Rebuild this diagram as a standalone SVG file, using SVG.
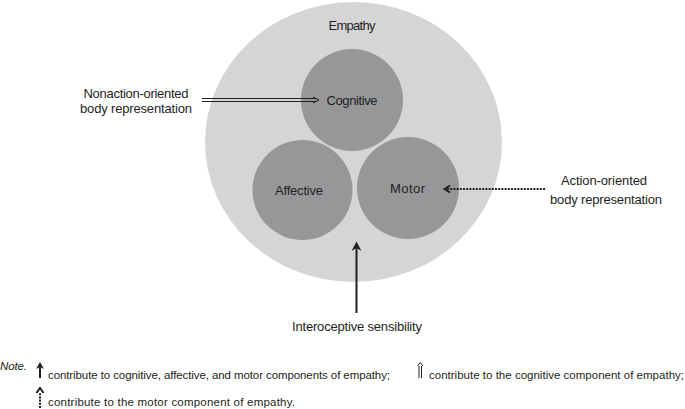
<svg xmlns="http://www.w3.org/2000/svg" width="685" height="409" viewBox="0 0 685 409">
<style>
  text { font-family: "Liberation Sans", Arial, sans-serif; fill: #231f20; }
  .lbl { font-size: 13px; text-anchor: middle; }
  .note { font-size: 11.5px; }
  .big { fill: #d5d5d7; }
  .comp { fill: #97979a; }
  .solid { stroke: #231f20; stroke-width: 2; fill: none; }
  .thin { stroke: #231f20; stroke-width: 1; fill: none; }
  .dot { stroke: #231f20; stroke-width: 2; stroke-dasharray: 2 1.2; fill: none; }
</style>
<g id="empathy">
  <ellipse class="big" cx="353.5" cy="142" rx="148.5" ry="140"/>
  <text class="lbl" x="352" y="30" textLength="47">Empathy</text>
</g>
<g id="cognitive">
  <circle class="comp" cx="352" cy="100" r="51"/>
  <text class="lbl" x="352" y="105" textLength="51">Cognitive</text>
</g>
<g id="affective">
  <circle class="comp" cx="302.5" cy="190" r="50"/>
  <text class="lbl" x="299" y="195" textLength="48">Affective</text>
</g>
<g id="motor">
  <circle class="comp" cx="408" cy="188" r="51"/>
  <text class="lbl" x="407.5" y="193" textLength="35">Motor</text>
</g>
<g id="nonaction">
  <text class="lbl" x="136" y="98" textLength="105">Nonaction-oriented</text>
  <text class="lbl" x="136" y="113" textLength="112">body representation</text>
</g>
<g id="action">
  <text class="lbl" x="604" y="185" textLength="86">Action-oriented</text>
  <text class="lbl" x="606" y="204" textLength="112">body representation</text>
</g>
<g id="interoceptive">
  <text class="lbl" x="357" y="331" textLength="130">Interoceptive sensibility</text>
</g>
<g id="connectors">
  <line class="thin" x1="202" y1="98.5" x2="316" y2="98.5"/>
  <line class="thin" x1="202" y1="101.5" x2="316" y2="101.5"/>
  <path class="thin" d="M313,97 L319,100 L313,103"/>
  <line class="dot" x1="545" y1="189" x2="446" y2="189"/>
  <path class="solid" stroke-width="1.6" d="M450,185.5 L444.5,189 L450,192.5"/>
  <line class="solid" x1="356.5" y1="313" x2="356.5" y2="246"/>
  <path d="M351.5,251 L356.5,241.5 L361.5,251 L356.5,248 Z" fill="#231f20"/>
</g>
<g id="legend">
  <text class="note" x="0" y="370" font-style="italic" font-size="10.5" textLength="27">Note.</text>
  <line class="solid" x1="40" y1="378" x2="40" y2="366"/>
  <path d="M36,369 L40,362 L44,369 L40,367 Z" fill="#231f20"/>
  <text class="note" x="48" y="379" textLength="342">contribute to cognitive, affective, and motor components of empathy;</text>
  <line class="thin" x1="419" y1="378" x2="419" y2="366"/>
  <line class="thin" x1="421.5" y1="378" x2="421.5" y2="366"/>
  <path class="thin" d="M417.5,366 L420.25,362.5 L423,366"/>
  <text class="note" x="429" y="379" textLength="255">contribute to the cognitive component of empathy;</text>
  <line class="dot" stroke-width="1.6" x1="40" y1="408" x2="40" y2="393"/>
  <path class="solid" stroke-width="1.6" d="M36.5,393 L40,388 L43.5,393"/>
  <text class="note" x="48" y="406" textLength="247">contribute to the motor component of empathy.</text>
</g>
</svg>
